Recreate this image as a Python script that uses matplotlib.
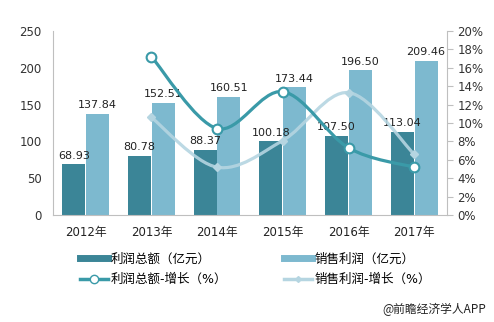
import matplotlib.pyplot as plt
import numpy as np
from matplotlib.path import Path
from matplotlib.patches import PathPatch
from matplotlib.lines import Line2D

plt.rcParams['font.family'] = ['DejaVu Sans', 'Noto Sans CJK SC']

# data
years = ['2012年', '2013年', '2014年', '2015年', '2016年', '2017年']
profit_total = [68.93, 80.78, 88.37, 100.18, 107.50, 113.04]
sales_profit = [137.84, 152.51, 160.51, 173.44, 196.50, 209.46]
# growth (%) from 2013 on
growth_years = [1, 2, 3, 4, 5]
profit_total_growth = [17.2, 9.4, 13.4, 7.3, 5.2]
sales_profit_growth = [10.6, 5.2, 8.1, 13.3, 6.6]

c_dark = '#3b8597'
c_light = '#7db9cf'
c_line1 = '#3a9aa8'
c_line2 = '#b5d5e1'
c_axis = '#bfbfbf'


def smooth_path(xs, ys):
    # Catmull-Rom style bezier through the points
    pts = np.column_stack([xs, ys]).astype(float)
    n = len(pts)
    verts = [pts[0]]
    codes = [Path.MOVETO]
    for i in range(n - 1):
        p0 = pts[i - 1] if i > 0 else pts[i]
        p1 = pts[i]
        p2 = pts[i + 1]
        p3 = pts[i + 2] if i + 2 < n else pts[i + 1]
        c1 = p1 + (p2 - p0) / 6
        c2 = p2 - (p3 - p1) / 6
        verts += [c1, c2, p2]
        codes += [Path.CURVE4] * 3
    return Path(verts, codes)


fig = plt.figure(figsize=(4.94, 3.22), dpi=100)
ax = fig.add_axes([0.107, 0.332, 0.798, 0.572])
ax2 = ax.twinx()

x = np.arange(len(years))
w = 0.35
b1 = ax.bar(x - w / 2 - 0.005, profit_total, w, color=c_dark, zorder=2)
b2 = ax.bar(x + w / 2 + 0.005, sales_profit, w, color=c_light, zorder=2)
for rect, v in zip(b1, profit_total):
    ax.text(rect.get_x() + rect.get_width() / 2, v + 5, f'{v:.2f}',
            ha='center', va='bottom', fontsize=8, color='#222222')
for rect, v in zip(b2, sales_profit):
    ax.text(rect.get_x() + rect.get_width() / 2, v + 5, f'{v:.2f}',
            ha='center', va='bottom', fontsize=8, color='#222222')

ax.set_xlim(-0.5, 5.5)
ax.set_ylim(0, 250)
ax.set_yticks(range(0, 251, 50))
ax.set_xticks(x)
ax.set_xticklabels(years, fontsize=8.5, color='#222222')
ax.tick_params(axis='y', length=0, labelsize=8.5, labelcolor='#333333', pad=8)
ax.tick_params(axis='x', length=0, pad=8)
for s in ['top', 'right']:
    ax.spines[s].set_visible(False)
ax.spines['left'].set_color(c_axis)
ax.spines['bottom'].set_color(c_axis)

# growth lines
ax2.set_ylim(0, 20)
ax2.set_yticks(range(0, 21, 2))
ax2.set_yticklabels([f'{v}%' for v in range(0, 21, 2)])
ax2.tick_params(axis='y', length=4, color=c_axis, labelsize=8.5, labelcolor='#333333')
for s in ['top', 'left', 'bottom']:
    ax2.spines[s].set_visible(False)
ax2.spines['right'].set_color(c_axis)

ax2.add_patch(PathPatch(smooth_path(growth_years, sales_profit_growth),
                        fc='none', ec=c_line2, lw=2.3, alpha=0.9, zorder=3))
ax2.plot(growth_years, sales_profit_growth, ls='none', marker='D', ms=4,
         color=c_line2, zorder=4)
ax2.add_patch(PathPatch(smooth_path(growth_years, profit_total_growth),
                        fc='none', ec=c_line1, lw=2.3, zorder=5))
ax2.plot(growth_years, profit_total_growth, ls='none', marker='o', ms=7,
         mfc='white', mec=c_line1, mew=1.5, zorder=6)

handles = [
    Line2D([], [], color=c_dark, lw=5),
    Line2D([], [], color=c_line1, lw=2.5, marker='o', ms=6, mfc='white', mec=c_line1),
    Line2D([], [], color=c_light, lw=5),
    Line2D([], [], color=c_line2, lw=2.5, marker='D', ms=3),
]
labels = ['利润总额（亿元）', '利润总额-增长（%）', '销售利润（亿元）', '销售利润-增长（%）']
fig.legend(handles, labels, ncol=2, loc='upper left', bbox_to_anchor=(0.14, 0.25),
           frameon=False, fontsize=9, handlelength=2.2, handletextpad=0.2,
           columnspacing=4.6, labelspacing=0.6)

fig.text(0.985, 0.02, '@前瞻经济学人APP', ha='right', va='bottom', fontsize=8.5,
         color='#222222', family=['Noto Sans CJK SC', 'DejaVu Sans'])

fig.savefig('out.png', dpi=100)
